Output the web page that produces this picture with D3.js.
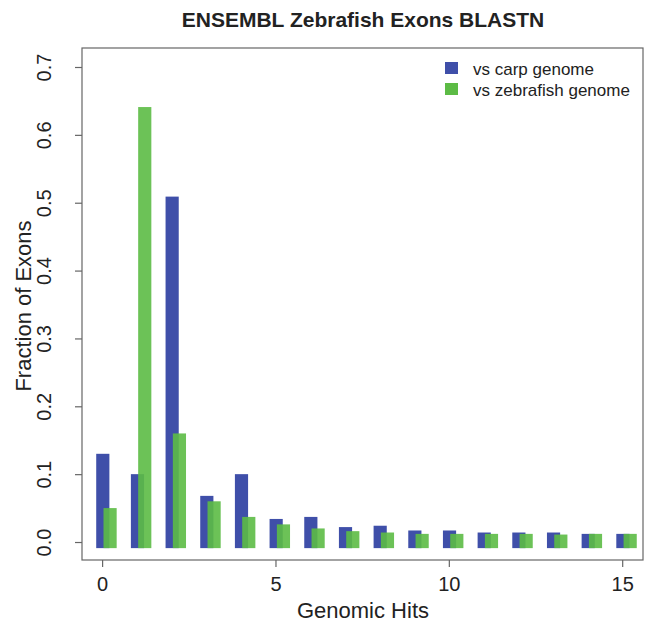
<!DOCTYPE html>
<html>
<head>
<meta charset="utf-8">
<script src="https://cdn.jsdelivr.net/npm/d3@7"></script>
<style>
  body { margin: 0; background: #fff; }
  text { font-family: "Liberation Sans", Arial, sans-serif; fill: #222; }
</style>
</head>
<body>
<div id="chart"></div>
<script>
// Data
var hits = [0, 1, 2, 3, 4, 5, 6, 7, 8, 9, 10, 11, 12, 13, 14, 15];
var carp = [0.130, 0.100, 0.509, 0.068, 0.100, 0.034, 0.037, 0.022, 0.024, 0.017, 0.017, 0.014, 0.014, 0.014, 0.012, 0.012];
var zebrafish = [0.050, 0.641, 0.160, 0.060, 0.037, 0.026, 0.020, 0.016, 0.014, 0.012, 0.012, 0.012, 0.012, 0.011, 0.012, 0.012];
var xTicks = [0, 5, 10, 15];
var yTicks = [0, 0.1, 0.2, 0.3, 0.4, 0.5, 0.6, 0.7];
var seriesNames = ["vs carp genome", "vs zebrafish genome"];

var svgWidth = 650;
var svgHeight = 625;

// plot box
var box = { left: 82, top: 48, right: 643, bottom: 560 };

var svg = d3.select("#chart")
  .append("svg")
  .attr("width", svgWidth)
  .attr("height", svgHeight);

var x = d3.scaleLinear()
  .domain([-0.58, 15.6])
  .range([box.left, box.right]);

var y = d3.scaleLinear()
  .domain([-0.0265, 0.728])
  .range([box.bottom, box.top]);

var blue = "#3f4fa9";
var green = "#5cbb45";
var barBase = -0.009; // bars start a bit below zero, as in the picture

// blue bars
svg.append("g").selectAll("rect")
  .data(hits)
  .enter()
  .append("rect")
  .attr("x", d => x(d - 0.17))
  .attr("width", x(0.21) - x(-0.17))
  .attr("y", (d, i) => y(carp[i]))
  .attr("height", (d, i) => y(barBase) - y(carp[i]))
  .attr("fill", blue);

// green bars, drawn over
svg.append("g").selectAll("rect")
  .data(hits)
  .enter()
  .append("rect")
  .attr("x", d => x(d + 0.04))
  .attr("width", x(0.42) - x(0.04))
  .attr("y", (d, i) => y(zebrafish[i]))
  .attr("height", (d, i) => y(barBase) - y(zebrafish[i]))
  .attr("fill", green)
  .attr("fill-opacity", 0.9);

// frame
svg.append("rect")
  .attr("x", box.left)
  .attr("y", box.top)
  .attr("width", box.right - box.left)
  .attr("height", box.bottom - box.top)
  .attr("fill", "none")
  .attr("stroke", "#666")
  .attr("stroke-width", 1.2);

// x axis
var xAxis = d3.axisBottom(x).tickValues(xTicks).tickSize(7).tickPadding(10);
var gx = svg.append("g")
  .attr("transform", `translate(0, ${box.bottom})`)
  .call(xAxis);
gx.select(".domain").remove();
gx.selectAll("line").attr("stroke", "#666").attr("stroke-width", 1.2);
gx.selectAll("text").style("font-size", "20px").attr("fill", "#222");

// y axis, labels rotated like R
var yAxis = d3.axisLeft(y).tickValues(yTicks).tickSize(7).tickFormat(d3.format(".1f"));
var gy = svg.append("g")
  .attr("transform", `translate(${box.left}, 0)`)
  .call(yAxis);
gy.select(".domain").remove();
gy.selectAll("line").attr("stroke", "#666").attr("stroke-width", 1.2);
gy.selectAll("text")
  .style("font-size", "20px")
  .attr("fill", "#222")
  .attr("x", 0)
  .attr("dy", 0)
  .attr("text-anchor", "middle")
  .attr("transform", "translate(-31, 0) rotate(-90)")
  .attr("y", 0);

// title
svg.append("text")
  .attr("x", 363)
  .attr("y", 27)
  .attr("text-anchor", "middle")
  .style("font-size", "21px")
  .style("font-weight", "bold")
  .text("ENSEMBL Zebrafish Exons BLASTN");

// axis titles
svg.append("text")
  .attr("x", 363)
  .attr("y", 618)
  .attr("text-anchor", "middle")
  .style("font-size", "22px")
  .text("Genomic Hits");

svg.append("text")
  .attr("transform", `translate(31, ${(box.top + box.bottom) / 2 + 2}) rotate(-90)`)
  .attr("text-anchor", "middle")
  .style("font-size", "22px")
  .text("Fraction of Exons");

// legend
var legend = svg.append("g")
  .attr("transform", "translate(445, 62)");
var colors = [blue, green];
seriesNames.forEach(function(name, i) {
  legend.append("rect")
    .attr("x", 0)
    .attr("y", i * 21)
    .attr("width", 13)
    .attr("height", 12)
    .attr("fill", colors[i]);
  legend.append("text")
    .attr("x", 28)
    .attr("y", i * 21 + 13)
    .style("font-size", "17px")
    .text(name);
});
</script>
</body>
</html>
